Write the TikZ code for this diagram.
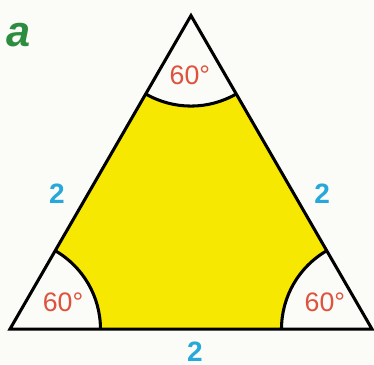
\documentclass[tikz,border=0pt]{standalone}
\usepackage{fontspec}
\setmainfont{Liberation Sans}
\usetikzlibrary{positioning}
\definecolor{paper}{RGB}{251,251,247}
\definecolor{areayellow}{RGB}{246,232,0}
\definecolor{anglered}{RGB}{222,82,62}
\definecolor{sideblue}{RGB}{38,168,218}
\definecolor{labelgreen}{RGB}{44,140,64}

\begin{document}
\begin{tikzpicture}[x=2.5cm,y=2.5cm,
    anglelabel/.style={text=anglered, font=\fontsize{10.5}{12}\selectfont},
    sidelabel/.style={text=sideblue, font=\fontsize{11}{13}\selectfont\bfseries}]
    % page and margins
    \fill[paper] (-0.055,-0.193) rectangle (2.011,1.818);
    \useasboundingbox (-0.055,-0.193) rectangle (2.011,1.818);

    % corners of the triangle
    \coordinate (A) at (0,0);
    \coordinate (B) at (2,0);
    \coordinate (C) at (1,1.732);

    % part outside the three sectors
    \fill[areayellow] (0.5,0) -- (1.5,0) arc (180:120:0.5)
        -- (1.25,1.299) arc (-60:-120:0.5)
        -- (0.25,0.433) arc (60:0:0.5) -- cycle;

    % sectors
    \draw[line width=1.2pt] (1.5,0) arc (180:120:0.5);
    \draw[line width=1.2pt] (1.25,1.299) arc (-60:-120:0.5);
    \draw[line width=1.2pt] (0.25,0.433) arc (60:0:0.5);

    % triangle
    \draw[line width=1.2pt, line join=miter] (A) -- (B) -- (C) -- cycle;

    % angles
    \node[anglelabel] (angC) at (0.994,1.403) {60°};
    \node[anglelabel] (angA) at (0.293,0.149) {60°};
    \node[anglelabel] (angB) at (1.740,0.149) {60°};

    % sides
    \node[sidelabel] (sideAC) at (0.26,0.75) {2};
    \node[sidelabel] (sideBC) at (1.724,0.75) {2};
    \node[sidelabel] (sideAB) at (1.022,-0.123) {2};

    \node[text=labelgreen, font=\fontsize{17}{20}\selectfont\bfseries\itshape] (tag) at (0.048,1.625) {a};
\end{tikzpicture}
\end{document}
